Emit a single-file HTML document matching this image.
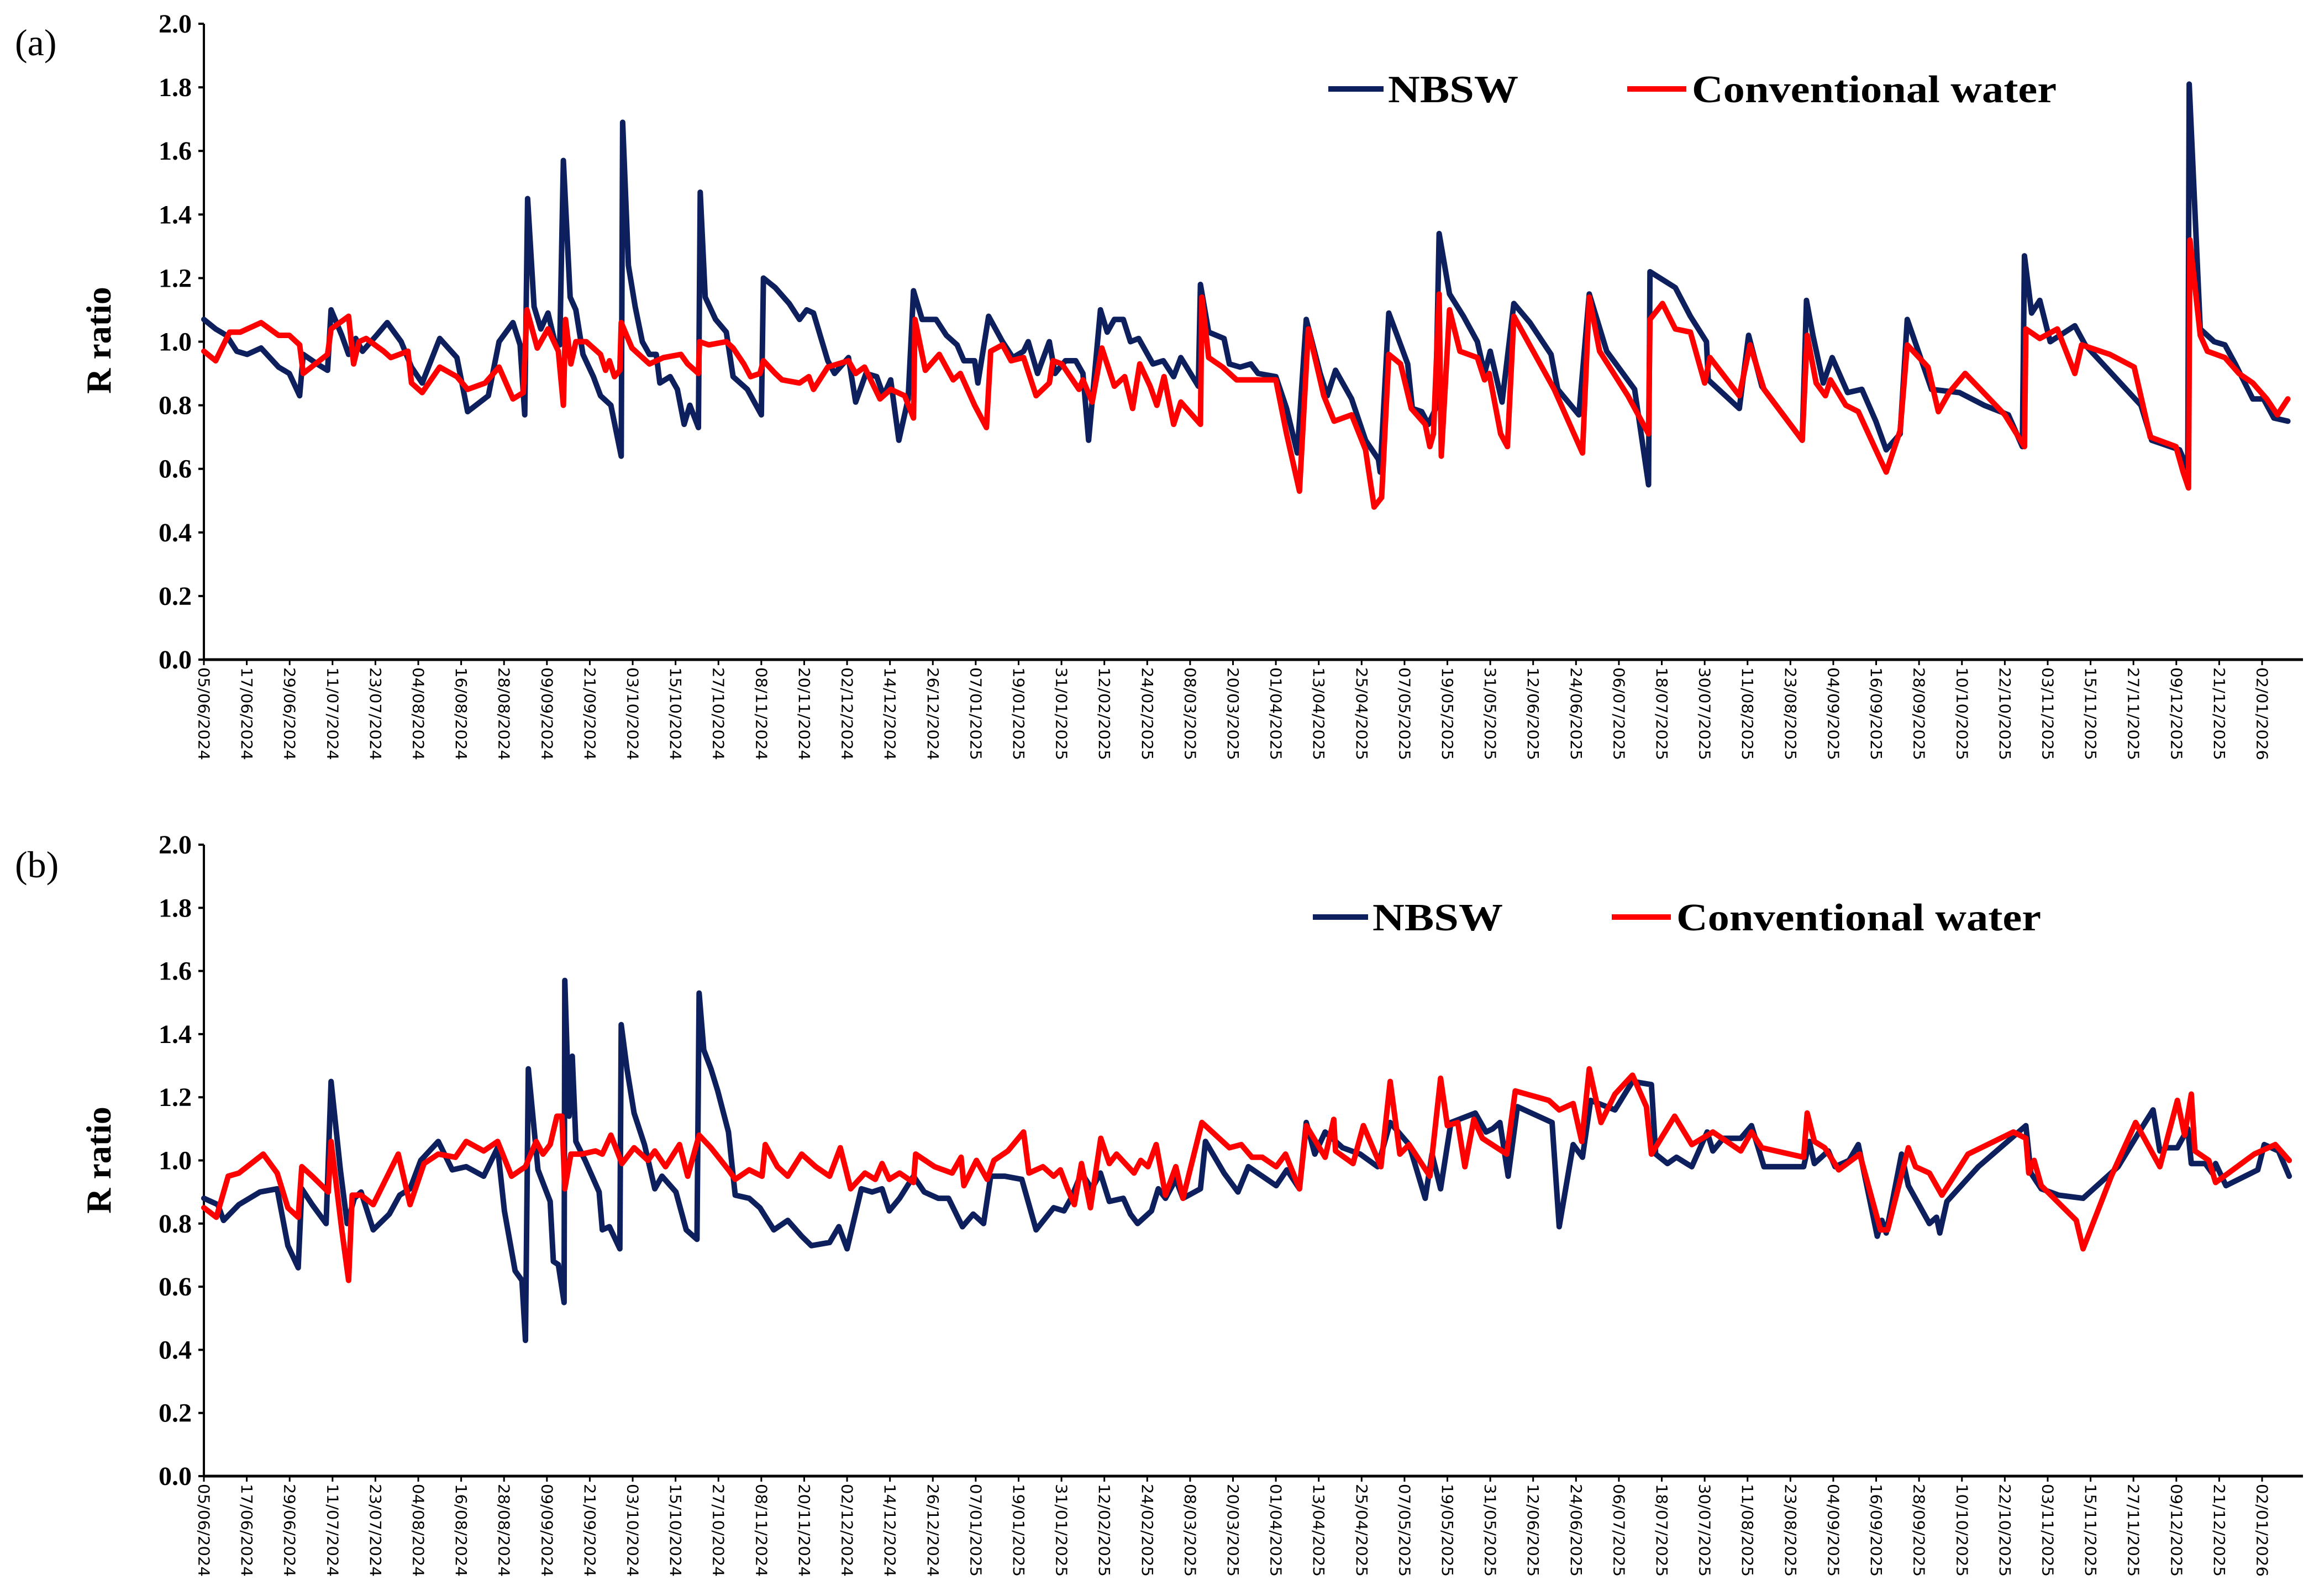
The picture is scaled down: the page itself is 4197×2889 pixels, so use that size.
<!DOCTYPE html>
<html><head><meta charset="utf-8"><style>
html,body{margin:0;padding:0;background:#fff;}
svg{display:block;}
</style></head><body>
<svg id="chart" width="4197" height="2889" viewBox="0 0 4197 2889" xmlns="http://www.w3.org/2000/svg">
<g id="panelA"></g>
<g id="panelB"></g>
</svg>
<script>
const tickDates = ["05/06/2024","17/06/2024","29/06/2024","11/07/2024","23/07/2024","04/08/2024","16/08/2024","28/08/2024","09/09/2024","21/09/2024","03/10/2024","15/10/2024","27/10/2024","08/11/2024","20/11/2024","02/12/2024","14/12/2024","26/12/2024","07/01/2025","19/01/2025","31/01/2025","12/02/2025","24/02/2025","08/03/2025","20/03/2025","01/04/2025","13/04/2025","25/04/2025","07/05/2025","19/05/2025","31/05/2025","12/06/2025","24/06/2025","06/07/2025","18/07/2025","30/07/2025","11/08/2025","23/08/2025","04/09/2025","16/09/2025","28/09/2025","10/10/2025","22/10/2025","03/11/2025","15/11/2025","27/11/2025","09/12/2025","21/12/2025","02/01/2026"];
const yTicks = ["0.0","0.2","0.4","0.6","0.8","1.0","1.2","1.4","1.6","1.8","2.0"];
const seriesNames = ["NBSW","Conventional water"];
// [day offset from 05/06/2024, R ratio]
const nbswA = [[0,1.07],[3.3,1.04],[6.3,1.02],[9.2,0.97],[12.1,0.96],[16,0.98],[20.9,0.92],[23.9,0.90],[26.8,0.83],[27.8,0.96],[31.7,0.93],[34.6,0.91],[35.6,1.10],[38.6,1.02],[40.5,0.96],[42.5,1.01],[44.4,0.97],[48.3,1.02],[51.3,1.06],[55.2,1.00],[58.1,0.92],[61.1,0.87],[66,1.01],[70.8,0.95],[73.8,0.78],[79.6,0.83],[82.6,1.00],[86.5,1.06],[88.5,0.99],[89.8,0.77],[90.6,1.45],[92.4,1.11],[94.3,1.04],[96.3,1.09],[98.2,1.00],[99.6,0.99],[100.6,1.57],[102.5,1.14],[104.1,1.10],[106.1,0.96],[109,0.89],[111,0.83],[113.9,0.80],[116.8,0.64],[117.2,1.69],[118.8,1.24],[120.7,1.11],[122.7,1.00],[124.7,0.96],[126.6,0.96],[127.6,0.87],[130.5,0.89],[132.5,0.85],[134.4,0.74],[136,0.80],[138.4,0.73],[138.9,1.47],[140.3,1.14],[143.2,1.07],[146.2,1.03],[148.1,0.89],[152.1,0.85],[156,0.77],[156.6,1.20],[159.9,1.17],[163.8,1.12],[166.7,1.07],[168.7,1.10],[170.6,1.09],[174.6,0.94],[176.5,0.90],[180.4,0.95],[182.4,0.81],[185.3,0.90],[188.3,0.89],[190.2,0.83],[192.2,0.88],[194.5,0.69],[197.1,0.82],[198.6,1.16],[201,1.07],[204.9,1.07],[207.8,1.02],[210.8,0.99],[212.7,0.94],[215.7,0.94],[216.6,0.87],[219.6,1.08],[223.5,1.00],[226.4,0.95],[229.4,0.97],[230.7,1.00],[233.3,0.90],[236.6,1.00],[238.2,0.90],[241.1,0.94],[244,0.94],[246,0.90],[247.6,0.69],[250.9,1.10],[252.8,1.03],[254.8,1.07],[257.3,1.07],[259.3,1.00],[261.6,1.01],[265.6,0.93],[268.5,0.94],[271.4,0.89],[273.4,0.95],[278.3,0.86],[278.9,1.18],[281.2,1.03],[285.5,1.01],[287,0.93],[290,0.92],[293,0.93],[295,0.90],[300,0.89],[303,0.79],[306,0.65],[308.5,1.07],[312.4,0.90],[314.4,0.83],[316.7,0.91],[321.2,0.82],[325.1,0.69],[328.7,0.63],[329.2,0.59],[331.6,1.09],[333.6,1.03],[336.9,0.93],[338.2,0.79],[340.8,0.78],[342.7,0.74],[344.7,0.79],[345.7,1.34],[348.6,1.15],[352.5,1.08],[356.4,1.00],[358.4,0.90],[360,0.97],[363.3,0.81],[366.6,1.12],[371.1,1.06],[377,0.96],[378.9,0.85],[384.8,0.77],[387.7,1.15],[392.6,0.97],[400.4,0.85],[404.3,0.55],[404.7,1.22],[411.8,1.17],[416,1.08],[420.5,1.00],[421,0.88],[429.7,0.79],[432.3,1.02],[436,0.86],[447.3,0.69],[448.5,1.13],[450.3,1.02],[453.2,0.87],[455.7,0.95],[460,0.84],[464,0.85],[467.9,0.75],[470.8,0.66],[474.7,0.71],[476.7,1.07],[483.5,0.85],[491.3,0.84],[498.2,0.80],[505,0.77],[508.9,0.67],[509.5,1.27],[511.5,1.09],[513.8,1.13],[516.7,1.00],[523.6,1.05],[526.5,0.99],[542.1,0.80],[545.1,0.69],[552.9,0.66],[555.2,0.60],[555.6,1.81],[558.7,1.04],[562.6,1.00],[565.6,0.99],[568.5,0.93],[573.4,0.82],[576.4,0.82],[579.3,0.76],[583.2,0.75]];
const convA = [[0,0.97],[3.3,0.94],[7.2,1.03],[10.2,1.03],[16,1.06],[20.9,1.02],[23.9,1.02],[26.8,0.99],[27.8,0.90],[34.6,0.96],[35.6,1.04],[40.5,1.08],[41.9,0.93],[43.4,1.00],[45.4,1.01],[50.3,0.97],[52.3,0.95],[57.1,0.97],[58.1,0.87],[61.1,0.84],[66,0.92],[70.8,0.89],[73.8,0.85],[78.7,0.87],[82.6,0.92],[86.5,0.82],[89.4,0.84],[90.4,1.10],[93.3,0.98],[96.3,1.04],[99.2,0.97],[100.6,0.80],[101.2,1.07],[102.7,0.93],[104.1,1.00],[107,1.00],[111,0.96],[112.4,0.91],[113.5,0.94],[114.9,0.89],[116.4,0.91],[116.8,1.06],[119.8,0.98],[124.7,0.93],[128.6,0.95],[133.5,0.96],[135.4,0.93],[138.4,0.90],[138.7,1.00],[141.3,0.99],[146.2,1.00],[148.1,0.98],[151.1,0.93],[153,0.89],[155.6,0.90],[156.6,0.94],[159.9,0.90],[161.8,0.88],[166.7,0.87],[169.3,0.89],[170.6,0.85],[174.6,0.92],[180.4,0.94],[182.4,0.90],[184.9,0.92],[189.2,0.82],[192.2,0.85],[196.1,0.83],[198.6,0.76],[199,1.07],[201.9,0.91],[205.8,0.96],[209.7,0.88],[211.7,0.90],[215.7,0.80],[219,0.73],[220.2,0.97],[223.5,0.99],[225.9,0.94],[229.4,0.95],[232.9,0.83],[236.6,0.87],[237.6,0.94],[240.1,0.93],[244.9,0.85],[246,0.88],[248.6,0.81],[251.3,0.98],[254.8,0.86],[257.7,0.89],[259.9,0.79],[261.9,0.93],[264.8,0.86],[266.7,0.80],[268.7,0.89],[271.4,0.74],[273.4,0.81],[278.9,0.74],[279.3,1.14],[281.2,0.95],[285.1,0.92],[289,0.88],[293,0.88],[300,0.88],[303,0.71],[306.6,0.53],[309.1,1.04],[313.4,0.83],[316.3,0.75],[321.2,0.77],[325.1,0.66],[327.5,0.48],[329.6,0.51],[331.6,0.96],[334.9,0.93],[337.9,0.79],[341.8,0.74],[343.1,0.67],[344.1,0.71],[345.7,1.15],[346.3,0.64],[348.6,1.10],[351.5,0.97],[356.4,0.95],[358.4,0.88],[359.7,0.90],[362.9,0.71],[364.8,0.67],[366.6,1.08],[377.9,0.85],[385.8,0.65],[387.7,1.14],[390.6,0.97],[398.5,0.83],[404.3,0.71],[404.7,1.07],[408.2,1.12],[411.8,1.04],[416,1.03],[420,0.87],[421.5,0.95],[429.7,0.83],[432.7,0.99],[436.6,0.85],[447.3,0.69],[448.7,1.02],[451.2,0.87],[453.8,0.83],[455.2,0.88],[459.5,0.80],[463,0.78],[467.9,0.66],[470.8,0.59],[474.7,0.72],[476.7,0.99],[482.5,0.92],[485.4,0.78],[488.4,0.84],[492.9,0.90],[497.2,0.85],[504,0.77],[509.5,0.67],[509.9,1.04],[513.8,1.01],[518.7,1.04],[523.6,0.90],[525.5,0.99],[533.4,0.96],[540.2,0.92],[544.7,0.70],[551.9,0.67],[553.9,0.59],[555.4,0.54],[555.8,1.32],[558.7,1.02],[560.7,0.97],[565.6,0.95],[569.5,0.90],[573.4,0.87],[577.3,0.82],[580.3,0.77],[583.2,0.82]];
const nbswB = [[0,0.88],[3.9,0.86],[5.5,0.81],[9.8,0.86],[15.7,0.90],[20.5,0.91],[23.5,0.73],[26.4,0.66],[27.4,0.91],[30.3,0.86],[34.2,0.80],[35.6,1.25],[38.2,0.97],[40.1,0.80],[42.1,0.88],[44,0.90],[47.4,0.78],[51.9,0.83],[54.8,0.89],[57.7,0.91],[60.7,1.00],[65.6,1.06],[69.5,0.97],[73.4,0.98],[78.3,0.95],[82.2,1.04],[84.1,0.84],[87.1,0.65],[89,0.62],[90,0.43],[90.8,1.29],[93.5,0.97],[96.9,0.87],[97.8,0.68],[99.2,0.67],[100.8,0.55],[101,1.57],[102.2,1.14],[103.1,1.33],[104.1,1.06],[106.7,1.00],[110.6,0.90],[111.5,0.78],[113.5,0.79],[116.4,0.72],[116.8,1.43],[118.4,1.29],[120.4,1.15],[123.3,1.05],[126.2,0.91],[128.2,0.95],[132.1,0.90],[135,0.78],[138,0.75],[138.6,1.53],[139.9,1.35],[141.9,1.29],[143.8,1.22],[146.8,1.09],[148.7,0.89],[152.6,0.88],[155.6,0.85],[159.5,0.78],[163.4,0.81],[167.3,0.76],[170,0.73],[175.1,0.74],[177.7,0.79],[180,0.72],[184,0.91],[187,0.90],[189.8,0.91],[191.8,0.84],[194.7,0.88],[198.6,0.95],[201.6,0.90],[205.5,0.88],[208.4,0.88],[212.3,0.79],[215.3,0.83],[218.2,0.80],[220.2,0.95],[224.1,0.95],[228.9,0.94],[232.9,0.78],[237.8,0.85],[240.7,0.84],[242.7,0.88],[245.6,0.96],[248.5,0.91],[250.9,0.96],[253.4,0.87],[257.3,0.88],[259.3,0.83],[261.3,0.80],[265.2,0.84],[267.1,0.91],[269.1,0.88],[272,0.94],[274,0.88],[278.9,0.91],[280.3,1.06],[285.5,0.96],[289.4,0.90],[292.3,0.98],[300.1,0.92],[303.1,0.97],[306.6,0.91],[308.5,1.12],[310.9,1.02],[313.8,1.09],[318.7,1.04],[323.6,1.02],[328.5,0.98],[332,1.12],[337.3,1.05],[341.8,0.88],[343.7,1.02],[346.1,0.91],[349,1.12],[355.8,1.15],[358.8,1.09],[360.7,1.10],[362.7,1.12],[365,0.95],[367.6,1.17],[377.3,1.12],[379.3,0.79],[383.2,1.05],[385.8,1.01],[388.1,1.19],[394.9,1.16],[399.8,1.25],[405.1,1.24],[406.3,1.02],[409.6,0.99],[412.1,1.01],[416.4,0.98],[420.7,1.09],[422.3,1.03],[425.2,1.07],[430.1,1.07],[433.1,1.11],[436.6,0.98],[447.7,0.98],[449.3,1.06],[450.7,0.99],[454.6,1.03],[456.5,0.98],[460.4,1.00],[463,1.05],[468.3,0.76],[469.6,0.81],[470.8,0.77],[475.1,1.02],[477,0.92],[482.9,0.80],[484.9,0.82],[485.8,0.77],[487.8,0.87],[496.6,0.98],[509.9,1.11],[511.3,0.96],[514.2,0.91],[519.1,0.89],[525.9,0.88],[535.7,0.98],[541.6,1.09],[545.5,1.16],[547.4,1.03],[549.4,1.04],[552.3,1.04],[555.2,1.10],[556.2,0.99],[560.1,0.99],[562,0.96],[563,0.99],[565.9,0.92],[574.8,0.97],[576.6,1.05],[580.6,1.03],[583.6,0.95]];
const convB = [[0,0.85],[3.5,0.82],[6.8,0.95],[9.8,0.96],[16.6,1.02],[20.5,0.96],[23.5,0.85],[26.4,0.82],[27.4,0.98],[30.3,0.95],[34.8,0.90],[35.6,1.06],[38.6,0.78],[40.5,0.62],[41.5,0.89],[44,0.89],[47.4,0.86],[50.9,0.94],[54.4,1.02],[57.7,0.86],[61.6,0.99],[65.6,1.02],[70.4,1.01],[73.4,1.06],[78.3,1.03],[82.2,1.06],[86.1,0.95],[90,0.98],[93,1.06],[94.9,1.02],[96.9,1.05],[98.8,1.14],[100.2,1.14],[101,0.91],[102.7,1.02],[105.7,1.02],[109.6,1.03],[111.5,1.02],[113.9,1.08],[117,0.99],[120.4,1.04],[124.3,1.00],[126.2,1.03],[129.2,0.98],[133.1,1.05],[135.4,0.95],[138.6,1.08],[141.9,1.04],[146.8,0.97],[148.7,0.94],[152.6,0.97],[156.2,0.95],[157.1,1.05],[160.5,0.98],[163.4,0.95],[167.3,1.02],[171.2,0.98],[175.1,0.95],[178.1,1.04],[181,0.91],[185,0.96],[187.9,0.94],[189.8,0.99],[191.8,0.94],[194.7,0.96],[198.6,0.93],[199.2,1.02],[204.5,0.98],[209.4,0.96],[211.9,1.01],[212.7,0.92],[216.2,1.00],[219.2,0.94],[221.1,1.00],[225,1.03],[229.4,1.09],[230.9,0.96],[234.8,0.98],[237.8,0.95],[239.7,0.97],[241.7,0.91],[243.6,0.86],[245.6,0.99],[248.1,0.85],[251,1.07],[253.4,0.99],[255.4,1.02],[260.3,0.96],[262.2,1.00],[264.2,0.98],[266.5,1.05],[269.1,0.89],[272,0.98],[274,0.88],[279.3,1.12],[282.2,1.09],[287,1.04],[290.3,1.05],[293.3,1.01],[296.2,1.01],[300.1,0.98],[302.7,1.02],[306.6,0.91],[308.5,1.11],[313.8,1.01],[316.2,1.13],[316.7,1.03],[321.6,0.99],[324.5,1.11],[329.4,0.98],[332,1.25],[334.7,1.02],[337.3,1.05],[343.1,0.95],[346.1,1.26],[348,1.11],[350.9,1.12],[352.9,0.98],[355.4,1.13],[357.8,1.07],[364.6,1.02],[367,1.22],[376.4,1.19],[379.3,1.16],[383.2,1.18],[385.6,1.06],[387.7,1.29],[391,1.12],[394.9,1.21],[399.8,1.27],[403.7,1.17],[405.1,1.02],[411.6,1.14],[416.4,1.05],[422.3,1.09],[430.1,1.03],[433.1,1.09],[436,1.04],[447.7,1.01],[448.7,1.15],[450.7,1.06],[453.6,1.04],[457.5,0.97],[463.4,1.02],[469.2,0.78],[471.2,0.78],[477,1.04],[479,0.98],[482.9,0.96],[486.4,0.89],[493.7,1.02],[506.4,1.09],[509.9,1.07],[510.7,0.96],[512.2,1.00],[514.2,0.92],[524,0.81],[525.9,0.72],[533.8,0.95],[540.6,1.12],[547.4,0.98],[552.3,1.19],[554.3,1.08],[556.2,1.21],[557.2,1.03],[561.1,1.00],[563,0.93],[573.8,1.02],[579.7,1.05],[583.6,1.00]];

const NS = "http://www.w3.org/2000/svg";
const X0 = 369, PX_PER_DAY = 6.467, X_END = 4168, DAYS_PER_TICK = 12;
function mk(tag, attrs, parent){
  const e = document.createElementNS(NS, tag);
  for (const k in attrs) e.setAttribute(k, attrs[k]);
  parent.appendChild(e);
  return e;
}
function xs(day){ return X0 + day * PX_PER_DAY; }

function drawPanel(g, cfg){
  const ys = v => cfg.y0 - v * cfg.perUnit;
  const ya = mk("line", {x1:X0, y1:ys(0), x2:X0, y2:ys(2), stroke:"#000", "stroke-width":4}, g);
  
  
  yTicks.forEach(t => {
    const v = parseFloat(t);
    const tk = mk("line", {x1:X0-10, y1:ys(v), x2:X0, y2:ys(v), stroke:"#000", "stroke-width":4}, g);
    
    
    const tx = mk("text", {x:X0-22, y:ys(v)+16, "text-anchor":"end", "font-family":"Liberation Serif, serif", "font-weight":"bold", "font-size":48, fill:"#000"}, g);
    tx.textContent = t;
    
    
  });
  const xa = mk("line", {x1:X0, y1:ys(0), x2:X_END, y2:ys(0), stroke:"#000", "stroke-width":5}, g);
  
  
  tickDates.forEach((d, i) => {
    const x = xs(i * DAYS_PER_TICK);
    const tk = mk("line", {x1:x, y1:ys(0), x2:x, y2:ys(0)+10, stroke:"#000", "stroke-width":3}, g);
    
    
    const ty = ys(0) + 14;
    const tx = mk("text", {x:x, y:ty, transform:`rotate(90 ${x} ${ty})`, "dominant-baseline":"central", "font-family":"DejaVu Sans, sans-serif", "font-size":28, fill:"#000", textLength:168, lengthAdjust:"spacingAndGlyphs"}, g);
    tx.textContent = d;
    
    
  });
  const yt = mk("text", {x:0, y:0, transform:`translate(${cfg.titleX} ${cfg.titleY}) rotate(-90)`, "text-anchor":"middle", "font-family":"Liberation Serif, serif", "font-weight":"bold", "font-size":64, fill:"#000"}, g);
  yt.textContent = "R ratio";
  
  
  const pl = mk("text", {x:27, y:cfg.labelY, "font-family":"Liberation Serif, serif", "font-size":68, fill:"#000"}, g);
  pl.textContent = cfg.label;
  
  
  const sers = [[cfg.nbsw, "#0d1f5c", "nbsw-line"], [cfg.conv, "#ff0000", "conventional-water-line"]];
  sers.forEach(s => {
    const pts = s[0].map(p => xs(p[0]).toFixed(1) + "," + ys(p[1]).toFixed(1)).join(" ");
    const pl2 = mk("polyline", {points:pts, fill:"none", stroke:s[1], "stroke-width":10, "stroke-linejoin":"round", "stroke-linecap":"round"}, g);
    
    
  });
  const lg = mk("g", {}, g);
  
  
  const l1 = mk("line", {x1:cfg.legX, y1:cfg.legY, x2:cfg.legX+100, y2:cfg.legY, stroke:"#0d1f5c", "stroke-width":10}, lg);
  
  
  const t1 = mk("text", {x:cfg.legX+108, y:cfg.legY+24, "font-family":"Liberation Serif, serif", "font-weight":"bold", "font-size":70, fill:"#000", textLength:236, lengthAdjust:"spacingAndGlyphs"}, lg);
  t1.textContent = seriesNames[0];
  
  
  const l2 = mk("line", {x1:cfg.legX+541, y1:cfg.legY, x2:cfg.legX+648, y2:cfg.legY, stroke:"#ff0000", "stroke-width":10}, lg);
  
  
  const t2 = mk("text", {x:cfg.legX+658, y:cfg.legY+24, "font-family":"Liberation Serif, serif", "font-weight":"bold", "font-size":70, fill:"#000", textLength:660, lengthAdjust:"spacingAndGlyphs"}, lg);
  t2.textContent = seriesNames[1];
  
  
}
drawPanel(document.getElementById("panelA"), {y0:1194, perUnit:575.5, nbsw:nbswA, conv:convA, label:"(a)", labelY:100, titleX:200, titleY:616, legX:2404, legY:161});
drawPanel(document.getElementById("panelB"), {y0:2672, perUnit:571.5, nbsw:nbswB, conv:convB, label:"(b)", labelY:1588, titleX:200, titleY:2100, legX:2376, legY:1660});
</script>
</body></html>
